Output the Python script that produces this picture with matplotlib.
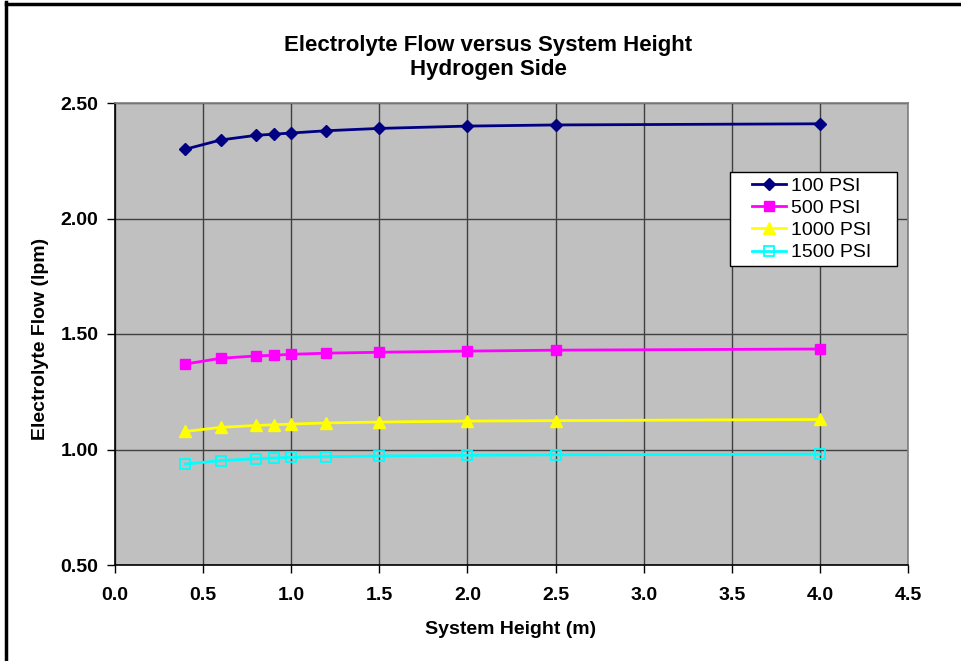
import matplotlib
matplotlib.use("Agg")
import matplotlib.pyplot as plt
from matplotlib.lines import Line2D
from matplotlib.patches import Rectangle

plt.rcParams['font.family'] = ['Liberation Sans', 'DejaVu Sans']

heights = [0.4, 0.6, 0.8, 0.9, 1.0, 1.2, 1.5, 2.0, 2.5, 4.0]
flow_100 = [2.30, 2.34, 2.36, 2.365, 2.37, 2.38, 2.39, 2.40, 2.405, 2.41]
flow_500 = [1.37, 1.395, 1.405, 1.408, 1.412, 1.417, 1.421, 1.426, 1.430, 1.435]
flow_1000 = [1.078, 1.096, 1.104, 1.107, 1.110, 1.115, 1.119, 1.123, 1.125, 1.130]
flow_1500 = [0.937, 0.952, 0.960, 0.963, 0.966, 0.969, 0.972, 0.975, 0.977, 0.980]
series_labels = ['100 PSI', '500 PSI', '1000 PSI', '1500 PSI']
x_ticks = [0.0, 0.5, 1.0, 1.5, 2.0, 2.5, 3.0, 3.5, 4.0, 4.5]
y_ticks = [0.50, 1.00, 1.50, 2.00, 2.50]

W, H = 961, 661
fig = plt.figure(figsize=(W / 100, H / 100), dpi=100)
fig.patch.set_facecolor('white')

# outer chart frame (left and top edges)
fig.add_artist(Line2D([6 / W, 6 / W], [0, 1 - 2 / H], color='black', lw=2.5,
                      transform=fig.transFigure))
fig.add_artist(Line2D([6 / W, 1], [1 - 3.5 / H, 1 - 3.5 / H], color='black', lw=2.5,
                      transform=fig.transFigure))

L, R, T, B = 115, 908, 103, 565
ax = fig.add_axes([L / W, 1 - B / H, (R - L) / W, (B - T) / H])
ax.set_facecolor('#C0C0C0')

styles = [
    dict(color='#000080', marker='D', ms=6, mfc='#000080', mec='#000080'),
    dict(color='#FF00FF', marker='s', ms=7.5, mfc='#FF00FF', mec='#FF00FF'),
    dict(color='#FFFF00', marker='^', ms=8, mfc='#FFFF00', mec='#FFFF00'),
    dict(color='#00FFFF', marker='s', ms=7.5, mfc='none', mec='#00FFFF', mew=1.3),
]
for ys, lab, st in zip([flow_100, flow_500, flow_1000, flow_1500], series_labels, styles):
    ax.plot(heights, ys, lw=2.0, label=lab, zorder=3, **st)

ax.set_xlim(0, 4.5)
ax.set_ylim(0.5, 2.5)
ax.set_xticks(x_ticks)
ax.set_xticklabels([f'{v:.1f}' for v in x_ticks])
ax.set_yticks(y_ticks)
ax.set_yticklabels([f'{v:.2f}' for v in y_ticks])
ax.grid(True, color='#404040', lw=1.0)
ax.set_axisbelow(True)
ax.tick_params(direction='out', length=6, width=1, color='black', labelsize=14)
ax.tick_params(axis='x', pad=10)
ax.tick_params(axis='y', pad=6)
for lbl in ax.get_xticklabels() + ax.get_yticklabels():
    lbl.set_fontweight('bold')

ax.spines['left'].set_color('black')
ax.spines['bottom'].set_color('black')
ax.spines['top'].set_color('#808080')
ax.spines['right'].set_color('#808080')
for s in ax.spines.values():
    s.set_linewidth(1.2)

fig.text(511 / W, 1 - 629 / H, 'System Height (m)',
         ha='center', va='center', fontsize=14, fontweight='bold')
fig.text(41 / W, 1 - 339 / H, 'Electrolyte Flow (lpm)', rotation=90,
         ha='center', va='center', fontsize=14, fontweight='bold')
fig.text(488 / W, 1 - 45 / H, 'Electrolyte Flow versus System Height',
         ha='center', va='center', fontsize=16, fontweight='bold')
fig.text(488 / W, 1 - 70 / H, 'Hydrogen Side',
         ha='center', va='center', fontsize=16, fontweight='bold')

# legend box drawn separately so its padding can be set freely
fig.add_artist(Rectangle((730 / W, 1 - 266 / H), (897 - 730) / W, (266 - 172) / H,
                         transform=fig.transFigure, facecolor='white',
                         edgecolor='black', lw=1.0, zorder=4))
leg = ax.legend(loc='upper left',
                bbox_to_anchor=(752 / W, 1 - 177 / H), bbox_transform=fig.transFigure,
                fontsize=14, frameon=False, borderpad=0, labelspacing=0.24,
                handlelength=1.75, handletextpad=0.25, borderaxespad=0)
leg.set_zorder(5)
fig.add_artist(leg)

fig.savefig('out.png', dpi=100, facecolor='white')
